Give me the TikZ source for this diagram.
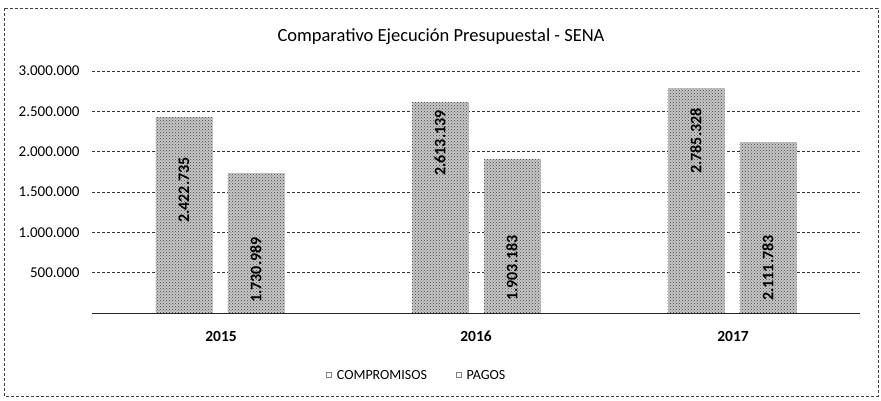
\documentclass[tikz,border=0pt]{standalone}
\usepackage{fontspec}
\setmainfont{Carlito}
\usetikzlibrary{positioning,patterns}

\tikzset{
  bar/.style={rectangle, minimum width=57pt, inner sep=0pt, anchor=south,
    preaction={fill=black!22}, pattern=crosshatch dots, pattern color=black!75},
  gridline/.style={densely dashed, black!80, line width=0.7pt},
  barlabel/.style={rotate=90, font=\fontsize{16}{16}\selectfont\bfseries},
  ticklabel/.style={anchor=east, font=\fontsize{15}{15}\selectfont},
  yearlabel/.style={font=\fontsize{15.5}{16}\selectfont\bfseries},
}

\begin{document}
\begin{tikzpicture}[x=1pt,y=-1pt]
  \useasboundingbox (0,0) rectangle (881,401);
  \draw[densely dashed, black!75, line width=0.7pt] (4,8) rectangle (878,396);

  \node (title) at (441,37) {\fontsize{18.5}{18}\selectfont Comparativo Ejecución Presupuestal - SENA};

  % eje y y lineas de guia
  \draw[black!85, line width=0.8pt] (92,313) -- (860,313);
  \foreach \k/\txt in {1/500.000,2/1.000.000,3/1.500.000,4/2.000.000,5/2.500.000,6/3.000.000} {
    \draw[gridline] (92,313-40.33*\k) -- (860,313-40.33*\k);
    \node (tick\k) [ticklabel] at (83,313-40.33*\k) {\txt};
  }

  % barras por año
  \foreach \n/\yr/\c/\cl/\cy/\p/\pl/\py in {
      0/2015/2.422735/2.422.735/190/1.730989/1.730.989/270,
      1/2016/2.613139/2.613.139/143/1.903183/1.903.183/268,
      2/2017/2.785328/2.785.328/141/2.111783/2.111.783/268} {
    \node (comp\yr) [bar, minimum height=\c*80.67pt] at (184+256*\n,313) {};
    \node (pago\yr) [bar, minimum height=\p*80.67pt] at (256+256*\n,313) {};
    \node (lc\yr) [barlabel] at (184+256*\n,\cy) {\cl};
    \node (lp\yr) [barlabel] at (256+256*\n,\py) {\pl};
  }
  \node (year2015) [yearlabel] at (221,336) {2015};
  \node (year2016) [yearlabel] at (476,336) {2016};
  \node (year2017) [yearlabel] at (733,336) {2017};

  % leyenda
  \node (legc) [font=\fontsize{14}{14}\selectfont] at (382,375) {COMPROMISOS};
  \node (legp) [font=\fontsize{14}{14}\selectfont] at (486,375) {PAGOS};
  \node (mkc) [rectangle, minimum size=5pt, inner sep=0pt, draw=black!50, left=2pt of legc] {};
  \node (mkp) [rectangle, minimum size=5pt, inner sep=0pt, draw=black!50, left=2pt of legp] {};
\end{tikzpicture}
\end{document}
